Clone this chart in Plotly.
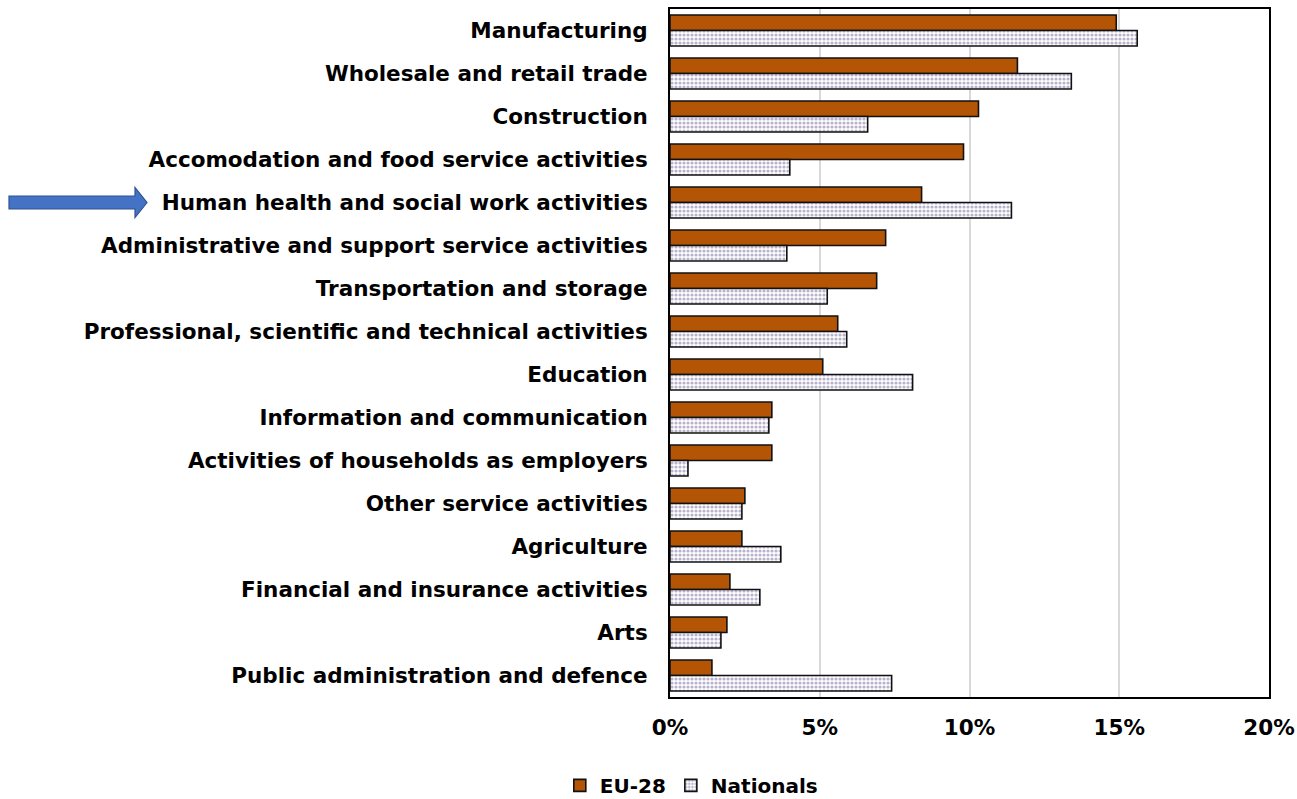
import plotly.graph_objects as go

categories = [
    "Manufacturing",
    "Wholesale and retail trade",
    "Construction",
    "Accomodation and food service activities",
    "Human health and social work activities",
    "Administrative and support service activities",
    "Transportation and storage",
    "Professional, scientific and technical activities",
    "Education",
    "Information and communication",
    "Activities of households as employers",
    "Other service activities",
    "Agriculture",
    "Financial and insurance activities",
    "Arts",
    "Public administration and defence",
]
eu28 = [14.9, 11.6, 10.3, 9.8, 8.4, 7.2, 6.9, 5.6, 5.1, 3.4, 3.4, 2.5, 2.4, 2.0, 1.9, 1.4]
nationals = [15.6, 13.4, 6.6, 4.0, 11.4, 3.9, 5.25, 5.9, 8.1, 3.3, 0.6, 2.4, 3.7, 3.0, 1.7, 7.4]
x_ticks = [0, 5, 10, 15, 20]
x_tick_labels = ["0%", "5%", "10%", "15%", "20%"]
highlight = "Human health and social work activities"

FONT = "DejaVu Sans"

fig = go.Figure()
fig.add_trace(go.Bar(
    y=categories, x=eu28, orientation="h", name="EU-28",
    marker=dict(color="#B35505", line=dict(color="#111111", width=1.6)),
))
fig.add_trace(go.Bar(
    y=categories, x=nationals, orientation="h", name="Nationals",
    marker=dict(
        color="white",
        line=dict(color="#111111", width=1.6),
        pattern=dict(shape=".", fgcolor="#76689a", bgcolor="white", size=4, solidity=0.5),
    ),
))

# block arrow pointing at the highlighted category
hi = categories.index(highlight)
arrow_path = "M -661 6.5 L -535 6.5 L -535 15 L -523 0 L -535 -15 L -535 -6.5 L -661 -6.5 Z"
fig.add_shape(
    type="path", path=arrow_path,
    xref="paper", yref="y", xsizemode="pixel", ysizemode="pixel",
    xanchor=0, yanchor=hi,
    fillcolor="#4472C4", line=dict(color="#2F528F", width=1.2),
    layer="above",
)

fig.update_layout(
    width=1297, height=799,
    margin=dict(l=670, r=28, t=9, b=102, autoexpand=False),
    paper_bgcolor="white", plot_bgcolor="white",
    barmode="group", bargap=0.28, bargroupgap=0,
    font=dict(family=FONT, size=21, color="black"),
    showlegend=True,
    legend=dict(
        orientation="h", xref="container", yref="container",
        x=0.533, xanchor="center", y=0.017, yanchor="middle",
        font=dict(family=FONT, size=20, color="black", weight="bold"),
        traceorder="normal", itemwidth=30,
    ),
    xaxis=dict(
        range=[0, 20], tickvals=x_ticks, ticktext=x_tick_labels,
        showgrid=True, gridcolor="#d9d9d9", gridwidth=1.5,
        showline=True, linecolor="black", linewidth=2, mirror=True,
        zeroline=False, ticks="", ticklabelstandoff=10, automargin=False,
        tickfont=dict(family=FONT, size=21.5, color="black", weight="bold"),
        fixedrange=True,
    ),
    yaxis=dict(
        autorange="reversed", showgrid=False,
        showline=True, linecolor="black", linewidth=2, mirror=True,
        ticks="", ticklabelstandoff=16, automargin=False,
        tickfont=dict(family=FONT, size=21.5, color="black", weight="bold"),
        fixedrange=True,
    ),
)

fig.write_html("out.html")
